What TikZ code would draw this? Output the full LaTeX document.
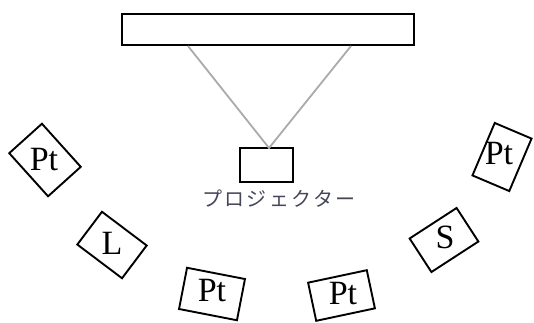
\documentclass[tikz,border=0pt]{standalone}
\usepackage{fontspec}
\setmainfont{Liberation Serif}
\newfontfamily\cjk[LetterSpace=12]{Noto Sans CJK JP}
\definecolor{beam}{RGB}{170,170,170}
\definecolor{jtext}{RGB}{70,70,90}
\begin{document}
\begin{tikzpicture}[x=1pt,y=-1pt,
  seat/.style={draw=black,line width=1.9pt,rectangle,inner sep=0pt,fill=white},
  lbl/.style={font=\fontsize{34}{36}\selectfont,inner sep=0pt,text=black}]
\useasboundingbox (0,0) rectangle (534,322);
% screen
\node[seat,line width=2pt,minimum width=292pt,minimum height=31pt] (screen) at (268,29.5) {};
% beam
\coordinate (bl) at (188,46);
\coordinate (br) at (351,46);
\node[seat,minimum width=53pt,minimum height=34pt] (proj) at (266.5,165) {};
\coordinate (apex) at (269,148);
\draw[beam,line width=1.8pt] (bl) -- (apex) -- (br);
\node[font=\cjk\fontsize{20}{22}\selectfont,text=jtext,inner sep=0pt] (projlbl) at (279,198.5) {プロジェクター};
% seats
\node[seat,minimum width=58pt,minimum height=44pt,rotate=-48] (s1) at (45,160) {};
\node[lbl] (t1) at (44,160) {Pt};
\node[seat,minimum width=56pt,minimum height=41pt,rotate=-37] (s2) at (112,245) {};
\node[lbl] (t2) at (112,243) {L};
\node[seat,minimum width=59pt,minimum height=42pt,rotate=-11] (s3) at (212,294) {};
\node[lbl] (t3) at (212,291) {Pt};
\node[seat,minimum width=60pt,minimum height=39pt,rotate=12] (s4) at (341.5,295.5) {};
\node[lbl] (t4) at (343,294) {Pt};
\node[seat,minimum width=56pt,minimum height=40pt,rotate=33] (s5) at (444,240) {};
\node[lbl] (t5) at (445,237) {S};
\node[seat,minimum width=40pt,minimum height=57pt,rotate=-23] (s6) at (502,157) {};
\node[lbl] (t6) at (499,154) {Pt};
\end{tikzpicture}
\end{document}
